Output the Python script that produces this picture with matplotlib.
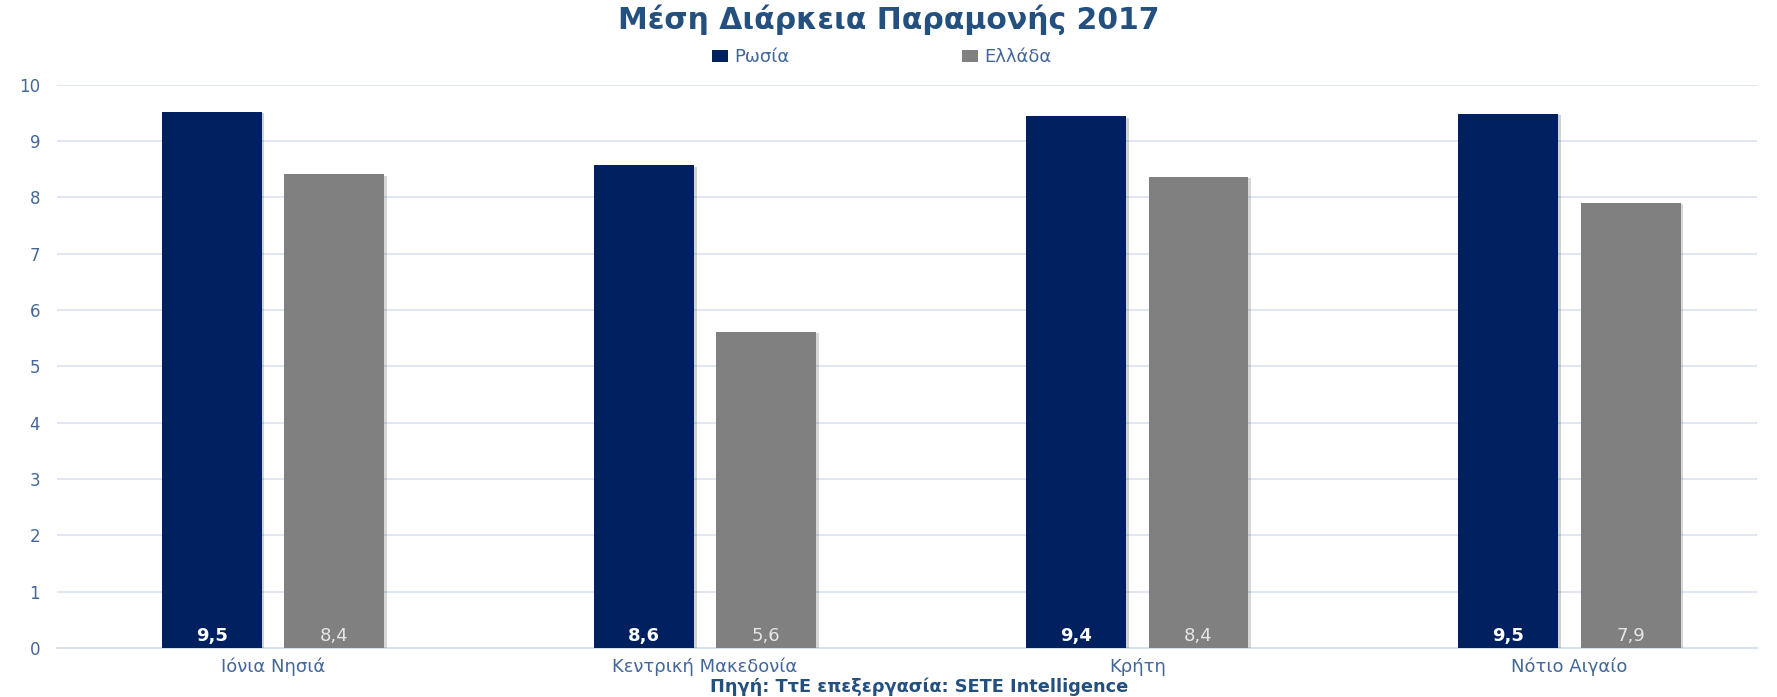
import numpy as np
import matplotlib
matplotlib.use('Agg')
import matplotlib.pyplot as plt
import matplotlib.patheffects as pe

# data
regions = ['Ιόνια Νησιά', 'Κεντρική Μακεδονία', 'Κρήτη', 'Νότιο Αιγαίο']
russia = [9.52, 8.57, 9.44, 9.48]
greece = [8.41, 5.61, 8.37, 7.91]
series_names = ['Ρωσία', 'Ελλάδα']
yticks = list(range(0, 11))

NAVY = '#00205f'
GRAY = '#808080'
TXT = '#44679a'
GRID = '#d9e3f0'
TITLE = '#24507f'

plt.rcParams['font.family'] = ['DejaVu Sans']

fig = plt.figure(figsize=(17.77, 6.97), dpi=100)
ax = fig.add_axes([0.032, 0.0703, 0.957, 0.808])

x = np.arange(len(regions))
w = 0.231
gap = 0.0525
off = (w + gap) / 2

shadow = [pe.SimplePatchShadow(offset=(2, -1), alpha=0.18), pe.Normal()]
b1 = ax.bar(x - off, russia, w, color=NAVY, label=series_names[0], zorder=3)
b2 = ax.bar(x + off, greece, w, color=GRAY, label=series_names[1], zorder=3)
for r in list(b1) + list(b2):
    r.set_path_effects(shadow)

def fmt(v):
    return ('%.1f' % v).replace('.', ',')

for rect, v in zip(b1, russia):
    ax.text(rect.get_x() + rect.get_width() / 2, 0.05, fmt(v), ha='center',
            va='bottom', color='white', fontsize=13, fontweight='bold', zorder=4)
for rect, v in zip(b2, greece):
    ax.text(rect.get_x() + rect.get_width() / 2, 0.05, fmt(v), ha='center',
            va='bottom', color='#e6e6e6', fontsize=13, zorder=4)

# category width in the picture is ~432px, axes spans 1700px
ax.set_xlim(-0.5, -0.5 + 1700 / 432)
ax.set_ylim(0, 10)
ax.set_yticks(yticks)
ax.yaxis.grid(True, color=GRID, linewidth=1.2, zorder=0)
ax.set_axisbelow(True)
for s in ['top', 'right', 'left']:
    ax.spines[s].set_visible(False)
ax.spines['bottom'].set_color(GRID)
ax.spines['bottom'].set_linewidth(1.5)
ax.tick_params(axis='y', length=0, colors=TXT, labelsize=12, pad=12)
ax.tick_params(axis='x', length=0, colors=TXT, labelsize=13, pad=7)
ax.set_xticks(x)
ax.set_xticklabels(regions)

fig.text(0.5, 0.972, 'Μέση Διάρκεια Παραμονής 2017', ha='center', va='center',
         fontsize=21.5, fontweight='bold', color=TITLE)

leg = fig.legend(loc='center left', bbox_to_anchor=(0.4006, 0.918), ncol=2,
                 frameon=False, fontsize=13, handlelength=0.9, handleheight=0.7,
                 columnspacing=9.55, handletextpad=0.35, borderpad=0,
                 borderaxespad=0)
for t in leg.get_texts():
    t.set_color(TXT)
for h in leg.legend_handles:
    h.set_path_effects([])

fig.text(0.5175, 0.015, 'Πηγή: ΤτΕ επεξεργασία: SETE Intelligence', ha='center',
         va='center', fontsize=12.8, fontweight='bold', color=TITLE)

fig.savefig('out.png', dpi=100)
